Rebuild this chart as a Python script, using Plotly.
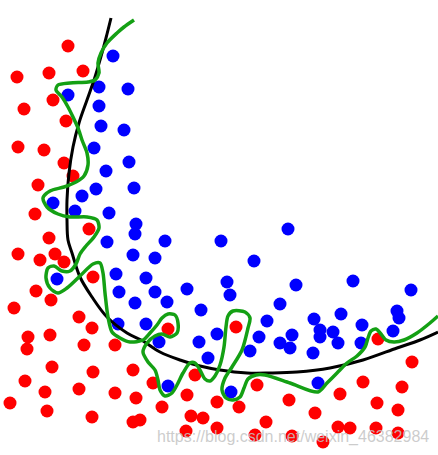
import plotly.graph_objects as go

# Class A (red) sample positions (x, y in image units, y downward)
red_x = [68, 17, 49, 83, 53, 24, 66, 18, 44, 64, 73, 38, 35, 89, 49, 18, 55, 40, 64, 93,
         36, 51, 14, 79, 92, 168, 28, 50, 27, 84, 115, 52, 93, 133, 25, 45, 79, 153, 115, 136,
         195, 187, 10, 47, 162, 92, 191, 203, 133, 140, 217, 186, 217, 236, 378, 412, 257, 363, 402, 340,
         239, 289, 377, 315, 398, 266, 338, 350, 376, 398, 255, 292, 323]
red_y = [46, 77, 73, 71, 100, 109, 121, 147, 150, 163, 176, 185, 214, 229, 238, 254, 254, 260, 262, 277,
         291, 300, 308, 317, 328, 329, 337, 335, 349, 345, 345, 367, 372, 370, 381, 392, 389, 383, 393, 398,
         375, 395, 403, 411, 407, 417, 416, 418, 422, 420, 402, 431, 428, 327, 339, 362, 385, 382, 387, 394,
         407, 400, 403, 413, 410, 422, 427, 428, 428, 433, 435, 436, 442]

# Class B (blue) sample positions
blue_x = [113, 99, 128, 68, 99, 101, 124, 94, 129, 106, 134, 96, 82, 53, 75, 109, 136, 288, 135, 107,
          165, 221, 133, 155, 57, 116, 146, 119, 155, 187, 135, 167, 201, 118, 146, 217, 159, 199, 208, 168,
          254, 227, 230, 296, 353, 411, 280, 267, 314, 341, 397, 399, 362, 259, 292, 280, 290, 320, 320, 333,
          338, 313, 361, 393, 250, 318, 231]
blue_y = [56, 87, 89, 95, 106, 126, 130, 148, 162, 171, 188, 189, 196, 203, 211, 213, 224, 229, 234, 242,
          241, 241, 255, 258, 279, 274, 278, 292, 292, 289, 303, 302, 310, 324, 324, 334, 342, 342, 358, 386,
          261, 282, 295, 285, 281, 290, 304, 321, 319, 314, 311, 318, 325, 337, 335, 343, 348, 330, 337, 332,
          343, 353, 343, 331, 351, 383, 392]

# Smooth (regularised) decision boundary
smooth_x = [111, 106, 102, 95, 87, 79, 73, 69, 67, 67, 68, 72, 80, 92, 107, 127, 143, 160, 180, 200,
            220, 247, 270, 297, 330, 363, 397, 420, 438]
smooth_y = [18, 38, 53, 77, 100, 123, 147, 173, 200, 220, 240, 253, 277, 297, 317, 333, 341, 352, 360, 366,
            370, 373, 373, 372, 368, 360, 348, 340, 332]

# Overfitted decision boundary
overfit_x = [134, 124, 117, 107, 101, 98, 99, 95, 88, 70, 58, 56, 62, 68, 73, 78, 82, 87, 88, 84,
             76, 64, 50, 43, 47, 58, 70, 87, 97, 99, 94, 86, 80, 76, 70, 62, 54, 48, 46, 50,
             58, 67, 80, 93, 100, 103, 105, 108, 112, 120, 130, 143, 150, 157, 162, 168, 175, 178, 177, 170,
             162, 155, 147, 143, 148, 155, 158, 160, 165, 172, 177, 183, 190, 195, 200, 205, 210, 215, 220, 224,
             226, 228, 233, 245, 250, 248, 242, 232, 225, 222, 226, 233, 240, 244, 248, 256, 265, 290, 318, 327,
             337, 347, 357, 365, 368, 371, 376, 381, 386, 394, 404, 417, 430, 438]
overfit_y = [20, 27, 33, 43, 53, 63, 73, 80, 82, 83, 85, 90, 97, 107, 117, 128, 140, 153, 165, 176,
             182, 187, 191, 198, 207, 214, 217, 217, 220, 228, 237, 246, 254, 264, 271, 271, 266, 268, 278, 288,
             293, 288, 276, 264, 263, 273, 293, 317, 332, 338, 342, 340, 333, 325, 318, 314, 315, 323, 333, 337,
             334, 336, 343, 352, 362, 370, 380, 390, 396, 393, 385, 373, 363, 363, 370, 379, 381, 376, 365, 347,
             327, 316, 311, 312, 318, 328, 350, 367, 378, 390, 398, 400, 397, 388, 379, 375, 375, 383, 392, 383,
             373, 363, 356, 347, 338, 331, 329, 334, 340, 342, 340, 333, 323, 316]

watermark = "https://blog.csdn.net/weixin_46382984"

fig = go.Figure()
fig.add_trace(go.Scatter(x=red_x, y=red_y, mode="markers",
                         marker=dict(color="#ff0000", size=13, line=dict(width=0)),
                         hoverinfo="skip"))
fig.add_trace(go.Scatter(x=blue_x, y=blue_y, mode="markers",
                         marker=dict(color="#0000ff", size=13, line=dict(width=0)),
                         hoverinfo="skip"))
fig.add_trace(go.Scatter(x=smooth_x, y=smooth_y, mode="lines",
                         line=dict(color="#000000", width=3, shape="spline", smoothing=1.0),
                         hoverinfo="skip"))
fig.add_trace(go.Scatter(x=overfit_x, y=overfit_y, mode="lines",
                         line=dict(color="#14a014", width=3.5, shape="spline", smoothing=0.8),
                         hoverinfo="skip"))

fig.add_annotation(x=293, y=437, xref="x", yref="y", text=watermark, showarrow=False,
                   font=dict(family="Liberation Sans, Arial, sans-serif", size=16,
                             color="rgba(195,195,195,0.85)"))

fig.update_layout(
    width=438, height=455,
    margin=dict(l=0, r=0, t=0, b=0),
    paper_bgcolor="white", plot_bgcolor="white",
    showlegend=False,
    xaxis=dict(range=[0, 438], visible=False, fixedrange=True),
    yaxis=dict(range=[455, 0], visible=False, fixedrange=True),
)

fig.write_html("out.html", config={"displayModeBar": False},
               post_script="document.body.style.margin='0px';document.body.style.overflow='hidden';")
